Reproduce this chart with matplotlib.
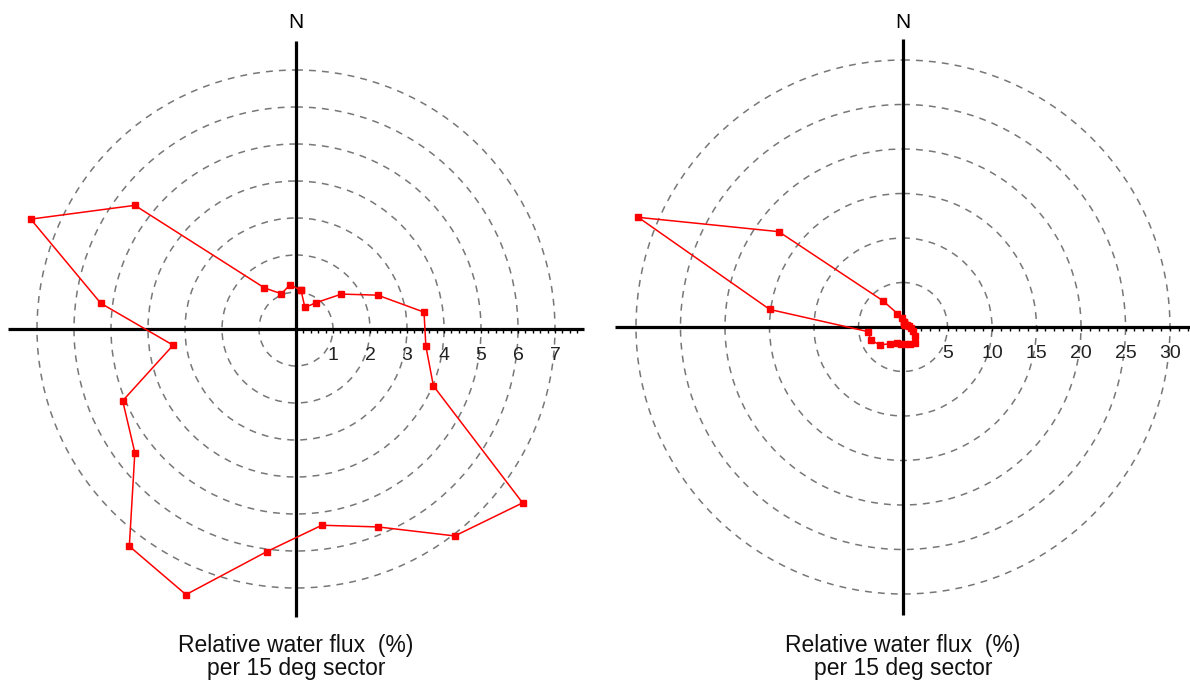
import numpy as np
import matplotlib.pyplot as plt

plt.rcParams['font.family'] = ['Liberation Sans', 'DejaVu Sans']

# sector centre bearings (deg, clockwise from north)
bearings = [7.5, 22.5, 37.5, 52.5, 67.5, 82.5, 97.5, 112.5, 127.5, 142.5, 157.5, 172.5,
            187.5, 202.5, 217.5, 232.5, 247.5, 262.5, 277.5, 292.5, 307.5, 322.5, 337.5, 352.5]

# relative water flux (%) per 15 deg sector
left_flux = [1.05, 0.63, 0.90, 1.55, 2.39, 3.49, 3.54, 4.02, 7.72, 7.05, 5.79, 5.35,
             6.07, 7.77, 7.40, 5.49, 5.07, 3.35, 5.32, 7.76, 5.49, 1.40, 1.03, 1.21]
right_flux = [0.6, 0.4, 0.35, 0.35, 0.5, 0.72, 0.9, 1.18, 1.7, 2.22, 2.1, 1.95,
              1.9, 1.9, 2.38, 3.29, 3.9, 3.97, 15.1, 32.2, 17.6, 3.73, 1.63, 1.0]

left_rings = [1, 2, 3, 4, 5, 6, 7]
right_rings = [5, 10, 15, 20, 25, 30]

caption = ['Relative water flux  (%)', 'per 15 deg sector']

W, H = 1190, 682
fig = plt.figure(figsize=(W / 100, H / 100), dpi=100)


def rose(cx, cy, px_per_unit, rings, minor_step, values):
    R = 288  # half length of the cross axes in pixels
    rmax = R / px_per_unit
    ax = fig.add_axes([(cx - R) / W, (H - cy - R) / H, 2 * R / W, 2 * R / H],
                      projection='polar')
    ax.set_theta_zero_location('N')
    ax.set_theta_direction(-1)
    ax.set_rlim(0, rmax)
    ax.set_thetagrids([])
    ax.set_rgrids(rings, labels=[''] * len(rings))
    ax.xaxis.grid(False)
    ax.yaxis.grid(True, color='#777777', lw=1.1, ls=(0, (4.5, 4)))
    ax.spines['polar'].set_visible(False)

    # cross axes
    for th in [0, np.pi / 2, np.pi, 3 * np.pi / 2]:
        ax.plot([th, th], [0, rmax], color='k', lw=2.3,
                solid_capstyle='butt', clip_on=False, zorder=3)

    # minor ticks along the east arm
    minor = np.arange(minor_step, rmax, minor_step)
    ax.plot(np.full(len(minor), np.pi / 2), minor, ls='none', marker=3,
            ms=3, mew=1, color='k', clip_on=False, zorder=3)

    for r in rings:
        ax.annotate(str(r), xy=(np.pi / 2, r), xytext=(0, -31),
                    textcoords='offset pixels', ha='center', va='baseline',
                    fontsize=14, color='#222222')

    th = np.deg2rad(bearings + bearings[:1])
    rr = values + values[:1]
    ax.plot(th, rr, color='red', lw=1.1, marker='s', ms=4,
            clip_on=False, zorder=5)

    fig.text(cx / W, 1 - 22 / H, 'N', ha='center', va='center', fontsize=15)
    fig.text(cx / W, 1 - 652 / H, caption[0], ha='center', va='baseline',
             fontsize=16.5, color='#111111')
    fig.text(cx / W, 1 - 675 / H, caption[1], ha='center', va='baseline',
             fontsize=16.5, color='#111111')
    return ax


rose(296, 329, 37.0, left_rings, 0.2, left_flux)
rose(903, 327, 8.9, right_rings, 1.0, right_flux)

fig.savefig('out.png', dpi=100)
